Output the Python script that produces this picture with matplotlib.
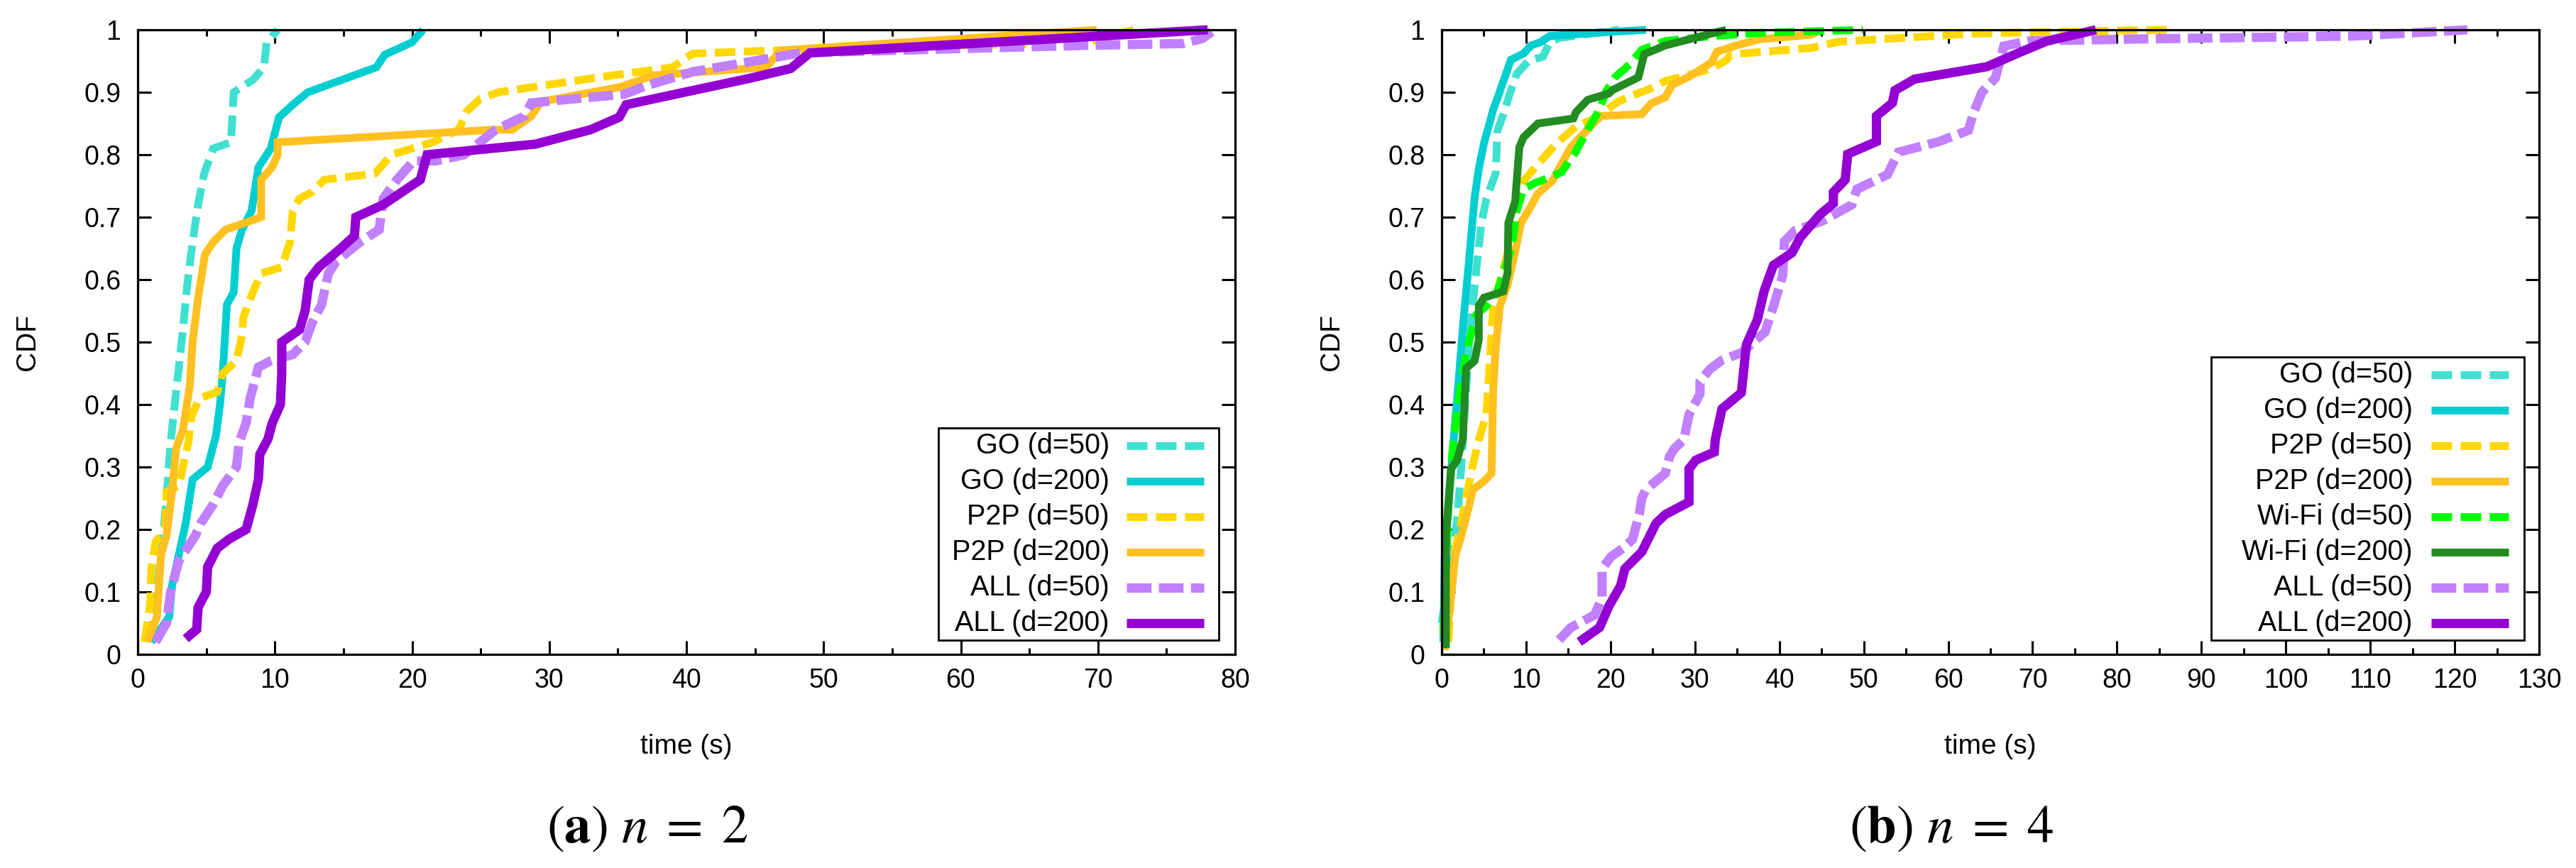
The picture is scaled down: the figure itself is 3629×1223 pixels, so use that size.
import matplotlib
matplotlib.use("Agg")
import matplotlib.pyplot as plt
from matplotlib.lines import Line2D
from matplotlib.patches import Rectangle

plt.rcParams['font.family'] = ['Liberation Sans', 'DejaVu Sans']
plt.rcParams['mathtext.fontset'] = 'stix'
plt.rcParams['lines.scale_dashes'] = False

# ---------------- data: (a) n = 2 ----------------
a_go50_x = [0.9, 1.4, 1.8, 2.1, 2.4, 3.0, 3.3, 3.6, 4.0, 4.4, 4.85, 5.5, 6.8, 7.0, 8.4, 9.2, 9.4, 10.2]
a_go50_y = [0.02, 0.1, 0.18, 0.25, 0.34, 0.46, 0.52, 0.59, 0.66, 0.72, 0.77, 0.81, 0.82, 0.9, 0.92, 0.94, 0.98, 1.0]

a_go200_x = [1.0, 2.3, 2.5, 3.0, 3.5, 4.0, 5.1, 5.7, 6.0, 6.2, 6.5, 7.0, 7.2, 7.6, 8.3, 8.8, 9.7, 10.3, 11.3, 12.4, 17.4, 18.0, 20.0, 20.8]
a_go200_y = [0.02, 0.06, 0.11, 0.16, 0.21, 0.28, 0.30, 0.35, 0.40, 0.45, 0.56, 0.58, 0.65, 0.68, 0.71, 0.78, 0.81, 0.86, 0.88, 0.90, 0.94, 0.96, 0.98, 1.0]

a_p2p50_x = [0.5, 0.9, 1.0, 1.3, 2.0, 2.1, 3.0, 3.3, 3.7, 3.9, 4.5, 5.8, 6.2, 7.2, 7.6, 7.7, 8.4, 9.0, 10.5, 11.1, 11.3, 11.8, 12.7, 13.6, 17.3, 18.5, 21.5, 23.4, 24.0, 25.0, 26.3, 33.3, 39.0, 39.9, 40.5, 49.0, 58.3, 69.0, 72.6]
a_p2p50_y = [0.02, 0.08, 0.14, 0.18, 0.2, 0.26, 0.27, 0.30, 0.34, 0.38, 0.41, 0.42, 0.45, 0.47, 0.51, 0.54, 0.58, 0.61, 0.62, 0.66, 0.71, 0.73, 0.74, 0.76, 0.77, 0.80, 0.82, 0.84, 0.87, 0.89, 0.90, 0.923, 0.94, 0.954, 0.962, 0.969, 0.975, 0.978, 1.0]

a_p2p200_x = [0.7, 1.4, 1.7, 2.1, 2.5, 2.8, 3.3, 3.8, 4.0, 4.4, 4.9, 5.5, 6.4, 9.0, 9.0, 9.8, 10.2, 10.2, 25.9, 27.3, 28.7, 29.4, 35.1, 37.6, 45.8, 46.9, 69.9]
a_p2p200_y = [0.02, 0.06, 0.16, 0.19, 0.26, 0.33, 0.36, 0.43, 0.50, 0.57, 0.64, 0.66, 0.68, 0.70, 0.76, 0.78, 0.80, 0.82, 0.84, 0.84, 0.862, 0.885, 0.908, 0.927, 0.94, 0.967, 1.0]

a_all50_x = [1.3, 2.1, 2.4, 3.0, 4.2, 4.6, 5.5, 6.2, 7.2, 7.4, 7.9, 8.2, 8.8, 9.7, 11.3, 12.2, 12.7, 13.4, 13.9, 14.5, 16.2, 17.6, 17.9, 18.9, 20.1, 21.7, 23.8, 26.1, 28.2, 28.7, 35.5, 37.0, 40.5, 48.3, 58.3, 69.0, 76.2, 77.6, 78.3]
a_all50_y = [0.02, 0.05, 0.10, 0.15, 0.19, 0.21, 0.24, 0.27, 0.30, 0.34, 0.37, 0.41, 0.46, 0.47, 0.48, 0.50, 0.53, 0.56, 0.61, 0.63, 0.66, 0.68, 0.73, 0.76, 0.79, 0.79, 0.80, 0.84, 0.862, 0.883, 0.897, 0.91, 0.933, 0.963, 0.969, 0.975, 0.978, 0.986, 0.997]

a_all200_x = [3.5, 4.3, 4.4, 5.0, 5.1, 5.8, 6.7, 7.9, 8.4, 8.8, 8.9, 9.5, 9.8, 10.4, 10.5, 10.5, 11.8, 12.2, 12.5, 13.2, 14.8, 15.8, 15.9, 17.9, 20.6, 21.1, 29.0, 33.0, 35.1, 35.6, 44.75, 47.6, 49.0, 78.0]
a_all200_y = [0.025, 0.04, 0.075, 0.10, 0.14, 0.17, 0.185, 0.20, 0.24, 0.28, 0.32, 0.345, 0.37, 0.40, 0.45, 0.50, 0.52, 0.55, 0.60, 0.62, 0.65, 0.67, 0.70, 0.72, 0.76, 0.80, 0.817, 0.84, 0.86, 0.88, 0.923, 0.938, 0.963, 1.0]

# ---------------- data: (b) n = 4 ----------------
b_go50_x = [0.0, 0.6, 1.3, 1.9, 2.3, 3.2, 3.9, 4.7, 5.3, 6.4, 6.6, 7.5, 8.0, 8.9, 10.3, 12.0, 12.8, 13.9, 21.0]
b_go50_y = [0.05, 0.10, 0.157, 0.224, 0.297, 0.49, 0.59, 0.69, 0.73, 0.77, 0.838, 0.872, 0.895, 0.93, 0.95, 0.957, 0.98, 0.987, 1.0]

b_go200_x = [0.2, 0.36, 0.92, 1.5, 2.0, 2.6, 3.2, 3.9, 4.4, 5.0, 5.7, 6.1, 6.8, 7.5, 8.2, 9.7, 10.6, 11.7, 12.8, 18.1, 24.2]
b_go200_y = [0.02, 0.157, 0.257, 0.357, 0.437, 0.538, 0.625, 0.731, 0.778, 0.818, 0.852, 0.872, 0.898, 0.925, 0.952, 0.962, 0.975, 0.98, 0.99, 0.995, 1.0]

b_p2p50_x = [0.8, 1.3, 2.2, 3.0, 3.7, 4.4, 5.3, 5.8, 6.1, 6.9, 8.0, 9.2, 9.7, 11.4, 13.6, 15.9, 18.1, 20.9, 22.6, 24.6, 26.5, 29.3, 32.0, 33.7, 34.3, 37.4, 43.8, 47.0, 63.0, 81.3, 86.4]
b_p2p50_y = [0.02, 0.15, 0.204, 0.257, 0.304, 0.344, 0.384, 0.49, 0.558, 0.598, 0.651, 0.731, 0.758, 0.785, 0.818, 0.845, 0.858, 0.885, 0.895, 0.905, 0.918, 0.928, 0.938, 0.951, 0.961, 0.964, 0.971, 0.981, 0.994, 0.999, 1.0]

b_p2p200_x = [0.36, 1.1, 1.6, 2.2, 3.0, 3.7, 5.0, 5.9, 6.1, 6.4, 6.9, 7.8, 8.6, 9.4, 10.6, 11.4, 13.1, 15.3, 18.1, 18.9, 23.7, 24.8, 26.5, 27.3, 29.3, 32.0, 32.6, 34.9, 37.7, 43.8, 44.8]
b_p2p200_y = [0.007, 0.09, 0.157, 0.184, 0.224, 0.264, 0.277, 0.29, 0.424, 0.49, 0.558, 0.591, 0.638, 0.691, 0.718, 0.738, 0.758, 0.812, 0.852, 0.862, 0.865, 0.882, 0.892, 0.912, 0.925, 0.948, 0.965, 0.975, 0.985, 0.992, 1.0]

b_wifi50_x = [0.2, 0.36, 0.8, 1.3, 2.2, 3.0, 4.1, 5.3, 6.6, 8.3, 8.9, 9.7, 11.1, 12.5, 14.2, 15.9, 17.5, 18.7, 19.5, 20.6, 22.3, 23.7, 26.5, 32.0, 37.7, 49.9]
b_wifi50_y = [0.03, 0.09, 0.237, 0.33, 0.424, 0.49, 0.544, 0.558, 0.581, 0.651, 0.711, 0.745, 0.755, 0.762, 0.772, 0.805, 0.845, 0.872, 0.902, 0.925, 0.945, 0.968, 0.982, 0.99, 0.995, 1.0]

b_wifi200_x = [0.5, 0.5, 1.1, 1.8, 2.5, 2.9, 3.9, 4.4, 4.4, 5.0, 7.3, 7.8, 7.9, 8.7, 9.2, 9.7, 11.4, 15.6, 15.9, 17.3, 19.8, 20.3, 23.3, 24.0, 26.5, 33.7]
b_wifi200_y = [0.01, 0.19, 0.297, 0.31, 0.344, 0.458, 0.47, 0.504, 0.558, 0.571, 0.581, 0.611, 0.691, 0.725, 0.812, 0.828, 0.85, 0.858, 0.868, 0.888, 0.898, 0.904, 0.924, 0.961, 0.975, 1.0]

b_all50_x = [13.9, 15.3, 18.1, 19.0, 19.0, 20.1, 21.5, 22.6, 23.4, 23.7, 24.2, 26.5, 27.0, 27.6, 28.7, 29.0, 29.3, 30.6, 30.6, 31.8, 33.2, 35.5, 38.3, 39.3, 40.4, 40.6, 41.9, 45.1, 48.6, 49.2, 52.8, 54.1, 58.9, 62.4, 63.0, 64.0, 65.6, 66.6, 69.5, 81.3, 108.0, 121.5]
b_all50_y = [0.023, 0.043, 0.063, 0.09, 0.137, 0.157, 0.17, 0.184, 0.224, 0.25, 0.264, 0.29, 0.317, 0.33, 0.344, 0.364, 0.384, 0.417, 0.437, 0.457, 0.471, 0.483, 0.516, 0.557, 0.607, 0.661, 0.679, 0.694, 0.72, 0.745, 0.768, 0.804, 0.821, 0.839, 0.867, 0.9, 0.923, 0.974, 0.982, 0.985, 0.99, 1.0]

b_all200_x = [16.3, 18.7, 19.8, 21.2, 21.7, 23.7, 25.4, 26.5, 29.3, 29.3, 30.1, 32.3, 32.4, 33.2, 35.5, 36.1, 37.4, 38.2, 39.3, 41.5, 42.5, 44.8, 46.4, 46.4, 47.8, 48.1, 51.5, 51.5, 53.4, 53.7, 56.0, 64.6, 68.5, 71.7, 77.5]
b_all200_y = [0.02, 0.043, 0.077, 0.11, 0.137, 0.164, 0.21, 0.224, 0.244, 0.297, 0.311, 0.324, 0.343, 0.393, 0.419, 0.496, 0.536, 0.582, 0.623, 0.643, 0.668, 0.704, 0.722, 0.74, 0.76, 0.801, 0.821, 0.862, 0.883, 0.903, 0.921, 0.941, 0.964, 0.982, 1.0]

# labels / ticks
a_labels = ["GO (d=50)", "GO (d=200)", "P2P (d=50)", "P2P (d=200)", "ALL (d=50)", "ALL (d=200)"]
b_labels = ["GO (d=50)", "GO (d=200)", "P2P (d=50)", "P2P (d=200)",
            "Wi-Fi (d=50)", "Wi-Fi (d=200)", "ALL (d=50)", "ALL (d=200)"]
a_xticks = [0, 10, 20, 30, 40, 50, 60, 70, 80]
b_xticks = [0, 10, 20, 30, 40, 50, 60, 70, 80, 90, 100, 110, 120, 130]
yticks = [0, 0.1, 0.2, 0.3, 0.4, 0.5, 0.6, 0.7, 0.8, 0.9, 1]
ytick_labels = ["0", "0.1", "0.2", "0.3", "0.4", "0.5", "0.6", "0.7", "0.8", "0.9", "1"]
captions = [r"$(\mathbf{a})\ n\;=\;2$", r"$(\mathbf{b})\ n\;=\;4$"]

# ---------------- styles ----------------
C_GO50, C_GO200 = "#40E0D0", "#00CED1"
C_P50, C_P200 = "#FFD700", "#FFC020"
C_W50, C_W200 = "#00FF00", "#228B22"
C_A50, C_A200 = "#C080FF", "#9400D3"
LW = 7.9
LW_ALL = 9.4
DASH = (20.9, 8.6)
DASH_ALL = (25.0, 7.5)

a_series = [
    (a_go50_x, a_go50_y, C_GO50, LW, DASH),
    (a_go200_x, a_go200_y, C_GO200, LW, None),
    (a_p2p50_x, a_p2p50_y, C_P50, LW, DASH),
    (a_p2p200_x, a_p2p200_y, C_P200, LW, None),
    (a_all50_x, a_all50_y, C_A50, LW_ALL, DASH_ALL),
    (a_all200_x, a_all200_y, C_A200, LW_ALL, None),
]
b_series = [
    (b_go50_x, b_go50_y, C_GO50, LW, DASH),
    (b_go200_x, b_go200_y, C_GO200, LW, None),
    (b_p2p50_x, b_p2p50_y, C_P50, LW, DASH),
    (b_p2p200_x, b_p2p200_y, C_P200, LW, None),
    (b_wifi50_x, b_wifi50_y, C_W50, LW, DASH),
    (b_wifi200_x, b_wifi200_y, C_W200, LW, None),
    (b_all50_x, b_all50_y, C_A50, LW_ALL, DASH_ALL),
    (b_all200_x, b_all200_y, C_A200, LW_ALL, None),
]

W, H = 3630, 1223
fig = plt.figure(figsize=(W / 100, H / 100), dpi=100)

ax_w = 1546 / W
ax_h = 880 / H
ax_b = (H - 922) / H
ax_a = fig.add_axes([194 / W, ax_b, ax_w, ax_h])
ax_bb = fig.add_axes([2031 / W, ax_b, ax_w, ax_h])


def style_axes(ax, xmax, xticks):
    ax.set_xlim(0, xmax)
    ax.set_ylim(0, 1)
    ax.set_xticks(xticks)
    ax.set_xticklabels([str(t) for t in xticks])
    ax.set_xticks([t + 5 for t in xticks[:-1]], minor=True)
    ax.set_yticks(yticks)
    ax.set_yticklabels(ytick_labels)
    for s in ax.spines.values():
        s.set_linewidth(2.3)
        s.set_zorder(20)
    ax.tick_params(which='both', direction='in', top=True, right=True, width=2.2,
                   labelsize=27)
    ax.tick_params(which='major', length=14)
    ax.tick_params(which='minor', length=6.5)
    ax.tick_params(axis='x', which='major', pad=14)
    ax.tick_params(axis='y', which='major', pad=17)
    ax.set_xlabel("time (s)", fontsize=28)
    ax.xaxis.set_label_coords(0.5, -0.148)
    ax.xaxis.label.set_va('center')
    ax.set_ylabel("CDF", fontsize=28)
    ax.yaxis.set_label_coords(-155 / 1546, 0.5)
    ax.yaxis.label.set_va('center')


def draw(ax, series):
    for x, y, c, lw, dash in series:
        ln, = ax.plot(x, y, color=c, lw=lw, clip_on=False, zorder=3,
                      solid_joinstyle='miter', solid_capstyle='butt')
        if dash is not None:
            ln.set_dashes(dash)
            ln.set_dash_capstyle('butt')
            ln.set_dash_joinstyle('miter')


def legend(ax, series, labels, box, row0, text_x, s0, s1):
    x0, y0, x1, y1 = box
    ax.add_patch(Rectangle((x0, y0), x1 - x0, y1 - y0, transform=ax.transAxes,
                           facecolor='white', edgecolor='black', lw=2.0,
                           zorder=10, clip_on=False))
    step = 50 / 880
    for i, ((_, _, c, lw, dash), lab) in enumerate(zip(series, labels)):
        yy = row0 - i * step
        ax.text(text_x, yy, lab, transform=ax.transAxes, ha='right', va='center',
                fontsize=28.5, zorder=11)
        ln = Line2D([s0, s1], [yy, yy], transform=ax.transAxes, color=c, lw=lw,
                    zorder=11, solid_capstyle='butt')
        if dash is not None:
            ln.set_dashes(dash)
            ln.set_dash_capstyle('butt')
        ax.add_line(ln)


style_axes(ax_a, 80, a_xticks)
style_axes(ax_bb, 130, b_xticks)
draw(ax_a, a_series)
draw(ax_bb, b_series)

legend(ax_a, a_series, a_labels,
       ((1322 - 194) / 1546, 0.0227, (1717 - 194) / 1546, 0.3625),
       (922 - 627.7) / 880, (1563 - 194) / 1546, (1587 - 194) / 1546, (1696 - 194) / 1546)
legend(ax_bb, b_series, b_labels,
       ((3115 - 2031) / 1546, 0.0227, (3556 - 2031) / 1546, 0.4761),
       (922 - 527.7) / 880, (3399 - 2031) / 1546, (3425 - 2031) / 1546, (3534 - 2031) / 1546)

fig.text(912 / W, (H - 1187) / H, captions[0], ha='center', va='baseline', fontsize=54)
fig.text(2749 / W, (H - 1187) / H, captions[1], ha='center', va='baseline', fontsize=54)

fig.savefig("out.png", dpi=100, facecolor='white')
